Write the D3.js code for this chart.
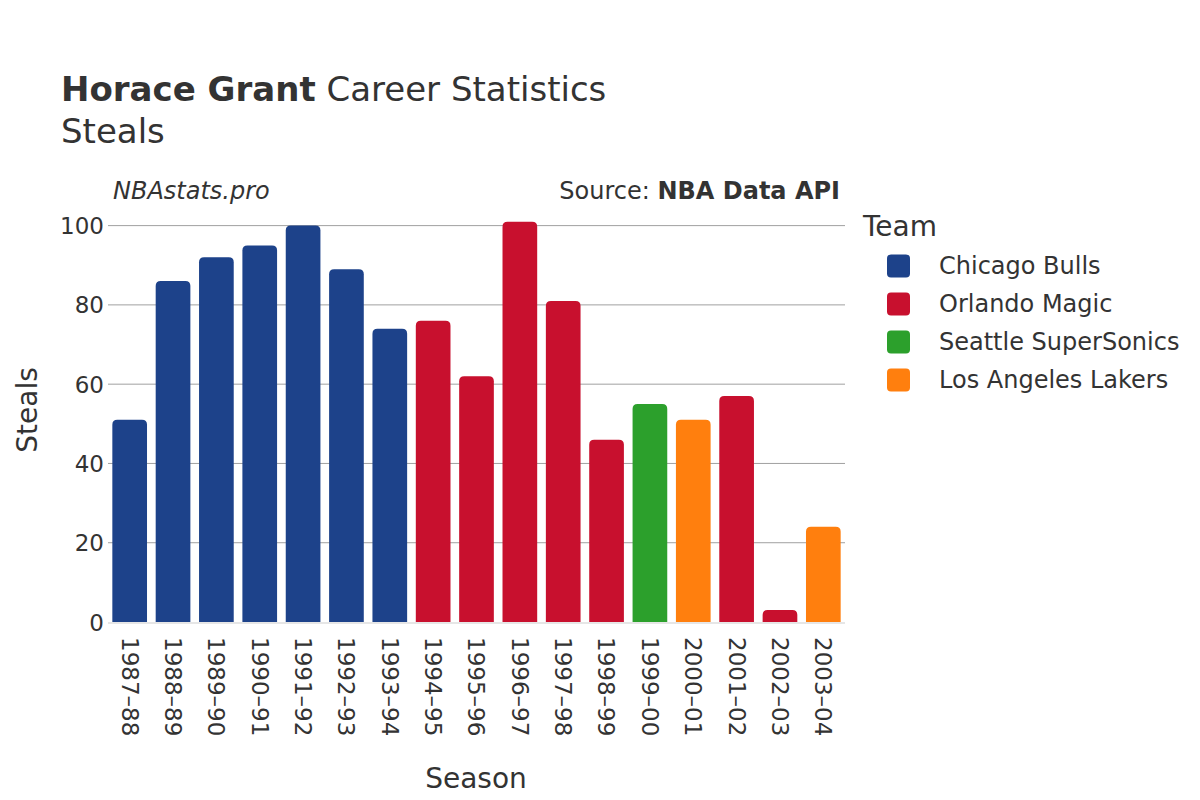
<!DOCTYPE html>
<html><head><meta charset="utf-8">
<script src="https://cdn.jsdelivr.net/npm/d3@7"></script>
<style>body{margin:0;background:#fff}text{font-family:"DejaVu Sans",sans-serif;fill:#333}</style>
</head><body><svg id="c" width="1200" height="800"></svg>
<script>
const seasons = ["1987–88","1988–89","1989–90","1990–91","1991–92","1992–93","1993–94","1994–95","1995–96","1996–97","1997–98","1998–99","1999–00","2000–01","2001–02","2002–03","2003–04"];
const steals = [51,86,92,95,100,89,74,76,62,101,81,46,55,51,57,3,24];
const teamOf = ["Chicago Bulls","Chicago Bulls","Chicago Bulls","Chicago Bulls","Chicago Bulls","Chicago Bulls","Chicago Bulls","Orlando Magic","Orlando Magic","Orlando Magic","Orlando Magic","Orlando Magic","Seattle SuperSonics","Los Angeles Lakers","Orlando Magic","Orlando Magic","Los Angeles Lakers"];
const teams = ["Chicago Bulls","Orlando Magic","Seattle SuperSonics","Los Angeles Lakers"];
const teamColors = ["#1d428a","#c8102e","#2ca02c","#ff7f0e"];
const yTicks = [0,20,40,60,80,100];

const svg = d3.select("#c");
const L=108,R=845,T=205,B=622;
const x = d3.scaleBand().domain(seasons).range([L,R]).paddingInner(0.2).paddingOuter(0.1);
const y = d3.scaleLinear().domain([0,105.2]).range([B,T]);
const color = d3.scaleOrdinal().domain(teams).range(teamColors);

// grid
svg.append("g").selectAll("line").data(yTicks.filter(d=>d>0)).join("line")
  .attr("x1",L).attr("x2",R).attr("y1",d=>y(d)).attr("y2",d=>y(d))
  .attr("stroke","#a0a0a0").attr("stroke-width",1);
// y axis labels
const yAxis = d3.axisLeft(y).tickValues(yTicks).tickSize(0).tickPadding(4);
const ya = svg.append("g").attr("transform",`translate(${L},0)`).call(yAxis);
ya.select(".domain").remove();
ya.selectAll("text").style("font-size","23px").attr("fill","#333").attr("font-family","DejaVu Sans").attr("dy","0.35em");

// bars
const data = seasons.map((s,i)=>({s,v:steals[i],t:teamOf[i]}));
const r=5;
svg.append("g").selectAll("path").data(data).join("path")
  .attr("d",d=>{
    const x0=x(d.s), w=x.bandwidth(), y0=y(d.v), yb=y(0);
    const rr=Math.min(r,(yb-y0));
    return `M${x0},${yb}V${y0+rr}Q${x0},${y0} ${x0+rr},${y0}H${x0+w-rr}Q${x0+w},${y0} ${x0+w},${y0+rr}V${yb}Z`;
  })
  .attr("fill",d=>color(d.t));

// zero line
svg.append("line").attr("x1",L).attr("x2",R).attr("y1",y(0)+1).attr("y2",y(0)+1).attr("stroke","#e6e6e6").attr("stroke-width",2);

// x axis labels
const xAxis = d3.axisBottom(x).tickSize(0);
const xa = svg.append("g").attr("transform",`translate(0,${B})`).call(xAxis);
xa.select(".domain").remove();
xa.selectAll("text").style("font-size","23px").attr("fill","#333").attr("font-family","DejaVu Sans")
  .attr("transform","rotate(90)").attr("text-anchor","start").attr("x",15).attr("y",0).attr("dy","0.35em");

// titles
const t1 = svg.append("text").attr("x",61).attr("y",101).style("font-size","34px");
t1.append("tspan").attr("font-weight","bold").text("Horace Grant");
t1.append("tspan").text(" Career Statistics");
svg.append("text").attr("x",61).attr("y",143).style("font-size","34px").text("Steals");
svg.append("text").attr("x",113).attr("y",199).style("font-size","24px").attr("font-style","italic").text("NBAstats.pro");
const src = svg.append("text").attr("x",840).attr("y",199).attr("text-anchor","end").style("font-size","24px");
src.append("tspan").text("Source: ");
src.append("tspan").attr("font-weight","bold").text("NBA Data API");

svg.append("text").attr("transform","translate(27,410) rotate(-90)").attr("text-anchor","middle").attr("dy","0.35em").style("font-size","28px").text("Steals");
svg.append("text").attr("x",476).attr("y",788).attr("text-anchor","middle").style("font-size","28px").text("Season");

// legend
svg.append("text").attr("x",863).attr("y",236).style("font-size","28px").text("Team");
const lg = svg.append("g").selectAll("g").data(teams).join("g").attr("transform",(d,i)=>`translate(887,${266+i*38})`);
lg.append("rect").attr("x",0).attr("y",-11.5).attr("width",23).attr("height",23).attr("rx",4).attr("fill",d=>color(d));
lg.append("text").attr("x",52).attr("dy","0.35em").style("font-size","24px").text(d=>d);
</script></body></html>
